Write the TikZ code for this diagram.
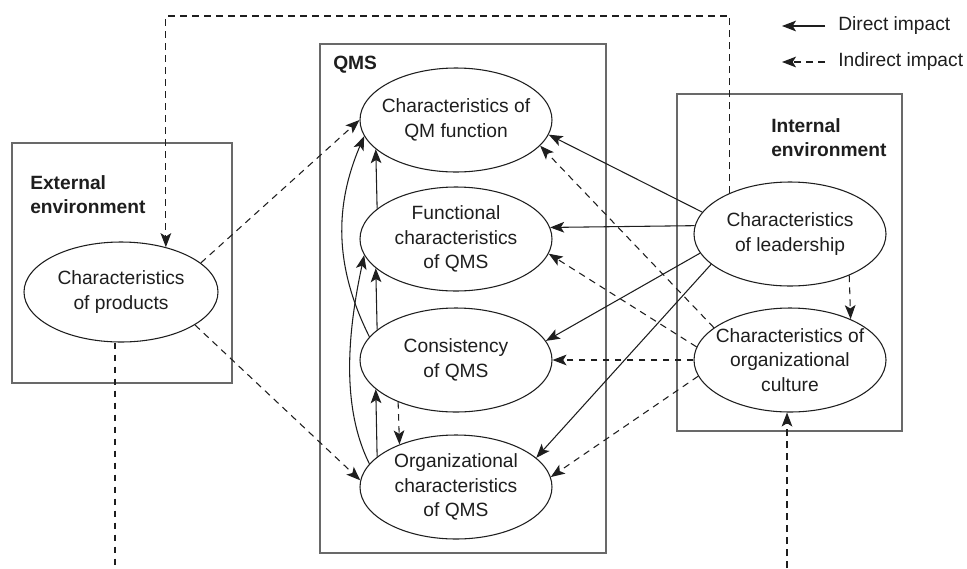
\documentclass[tikz,border=0pt]{standalone}
\usepackage{fontspec}
\setmainfont{Liberation Sans}
\usetikzlibrary{arrows.meta, shapes.geometric}
\definecolor{qmsline}{RGB}{30, 30, 30}
\definecolor{qmsframe}{RGB}{105, 105, 105}
\tikzset{
    factor/.style={ellipse, draw=qmsline, fill=white, line width=0.8pt, minimum width=144pt, minimum height=78pt, inner xsep=-10pt, inner ysep=0pt, align=center, font=\fontsize{14.4}{18.4}\selectfont, text=qmsline},
    envbox/.style={draw=qmsframe, line width=1.2pt},
    boxlabel/.style={anchor=west, align=left, inner sep=0pt, font=\fontsize{14.4}{18.4}\selectfont\bfseries, text=qmsline},
    legendtext/.style={anchor=west, inner sep=0pt, font=\fontsize{14.4}{18.4}\selectfont, text=qmsline},
    direct/.style={draw=qmsline, line width=0.8pt, -{Stealth[length=10.5pt, width=8pt, inset=2.5pt]}},
    indirect/.style={direct, dash pattern=on 5pt off 4pt}
}

\begin{document}
\begin{tikzpicture}[x=0.75pt, y=-0.75pt]
    \useasboundingbox (0,0) rectangle (967,568);

    % environments
    \draw[envbox] (12,143) rectangle (232,383);
    \draw[envbox] (320,44) rectangle (606,553);
    \draw[envbox] (677,94) rectangle (902,431);
    \node[boxlabel] (extlabel) at (30,194.5) {External\\environment};
    \node[boxlabel] (qmslabel) at (333,65) {QMS};
    \node[boxlabel] (intlabel) at (771,137.5) {Internal\\environment};

    % factors
    \node[factor, minimum width=145.5pt, minimum height=75pt] (prod) at (121,292) {Characteristics\\of products};
    \node[factor] (qmf) at (456,120) {Characteristics of\\QM function};
    \node[factor] (fun) at (456,239) {Functional\\characteristics\\of QMS};
    \node[factor] (con) at (456,360) {Consistency\\of QMS};
    \node[factor] (org) at (456,487) {Organizational\\characteristics\\of QMS};
    \node[factor] (lead) at (790,234) {Characteristics\\of leadership};
    \node[factor] (cult) at (790,360) {Characteristics of\\organizational\\culture};

    % inside QMS
    \draw[direct] (fun.159.5) -- (qmf.200.5);
    \draw[direct] (con.159.5) -- (fun.200.5);
    \draw[direct] (org.159.5) -- (con.200.5);
    \draw[direct] (con.165) .. controls +(-35,-70) and +(-30,70) .. (qmf.190);
    \draw[direct] (org.165) .. controls +(-30,-60) and +(-15,70) .. (fun.190);
    \draw[indirect] (con.216.3) -- (org.143.7);

    % leadership
    \draw[direct] (lead.166) -- (qmf.351);
    \draw[direct] (lead.175.8) -- (fun.7.3);
    \draw[direct] (lead.192.4) -- (con.12.7);
    \draw[direct] (lead.201.2) -- (org.20.8);
    \draw[indirect] (lead.325.2) -- (cult.34.8);

    % culture
    \draw[indirect] (cult.157.6) -- (qmf.343.8);
    \draw[indirect] (cult.172) -- (fun.351.3);
    \draw[indirect] (cult.west) -- (con.east);
    \draw[indirect] (cult.190.5) -- (org.6.2);

    % products
    \draw[indirect] (prod.20) -- (qmf.west);
    \draw[indirect] (prod.336.5) -- (org.176);

    % loops leaving the picture
    \coordinate (loopy) at (0,16);
    \draw[indirect] (lead.146.6) -- (lead.146.6 |- loopy) -| (prod.45.4);
    \coordinate (prodout) at (115,568);
    \draw[indirect, -] (prodout |- prod.south) -- (prodout);
    \coordinate (cultin) at (787,568);
    \draw[indirect] (cultin) -- (cultin |- cult.south);

    % legend
    \node[legendtext] (ldirect) at (838,26) {Direct impact};
    \node[legendtext] (lindirect) at (838,62) {Indirect impact};
    \coordinate (ld0) at (825,26);
    \coordinate (ld1) at (782,26);
    \coordinate (li0) at (825,62);
    \coordinate (li1) at (782,62);
    \draw[direct] (ld0) -- (ld1);
    \draw[indirect] (li0) -- (li1);
\end{tikzpicture}
\end{document}
